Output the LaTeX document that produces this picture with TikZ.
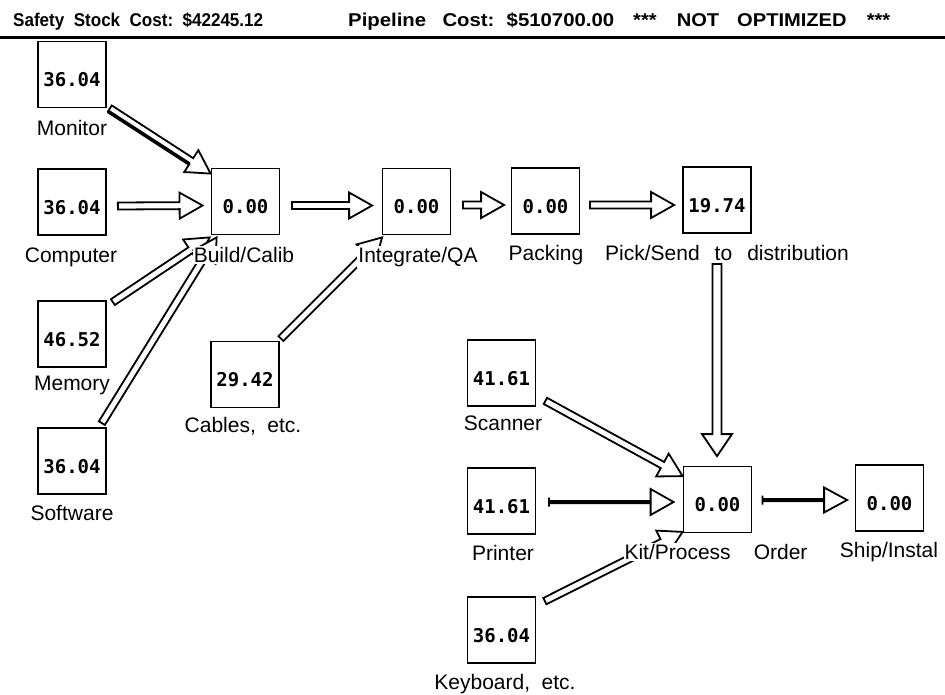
\documentclass[tikz,border=0pt]{standalone}
\usepackage{fontspec}
\setmainfont{Liberation Sans}
\newfontfamily\numfont{DejaVu Sans Mono}
\usetikzlibrary{calc}
% default geometry of a flow arrow (half shaft width, half head width, head length)
\def\flowhw{3.5}
\def\flowhh{13}
\def\flowhl{23}
\def\flowtick{3.5}
\newcommand\wgap{\hspace{0.55em}}
\newcommand\hdrtext[2]{\resizebox{#1}{\height}{#2}}
\begin{document}
\begin{tikzpicture}[x=1pt,y=-1pt,
  box/.style={draw, line width=1.8pt, fill=white, minimum width=68pt, minimum height=66pt,
    inner sep=0pt, font=\numfont\bfseries\fontsize{19}{19}\selectfont,
    text height=24pt, text depth=0pt},
  tag/.style={fill=white, inner sep=1pt, anchor=base, font=\fontsize{21}{23}\selectfont},
  hdr/.style={inner sep=0pt, anchor=base west, font=\bfseries\fontsize{18.5}{21}\selectfont},
  shaftw/.code={\def\flowhw{#1}},
  headsize/.code 2 args={\def\flowhh{#1}\def\flowhl{#2}},
  solid/.code={\def\flowhw{1.1}\def\flowtick{4.5}},
  flow/.style={draw, line width=1.8pt, fill=white, line join=miter,
    to path={
      let \p1=(\tikztostart), \p2=(\tikztotarget),
          \n1={atan2(\y2-\y1,\x2-\x1)},
          \n2={veclen(\x2-\x1,\y2-\y1)-\flowhl}
      in ($(\p1)+(\n1+90:\flowhw pt)$)
      -- ($(\p1)+(\n1:\n2)+(\n1+90:\flowhw pt)$)
      -- ($(\p1)+(\n1:\n2)+(\n1+90:\flowhh pt)$)
      -- (\p2)
      -- ($(\p1)+(\n1:\n2)+(\n1-90:\flowhh pt)$)
      -- ($(\p1)+(\n1:\n2)+(\n1-90:\flowhw pt)$)
      -- ($(\p1)+(\n1-90:\flowhw pt)$)
      -- cycle
      ($(\p1)+(\n1+90:\flowtick pt)$) -- ($(\p1)+(\n1-90:\flowtick pt)$)
    }},
]
\useasboundingbox (0,0) rectangle (945,694);

% header line
\node[hdr] (hsafety) at (13,26) {\hdrtext{250pt}{Safety\wgap Stock\wgap Cost:\wgap \$42245.12}};
\node[hdr] (hpipe)   at (348,26) {\hdrtext{266pt}{Pipeline\hspace{0.8em}Cost:\hspace{0.6em}\$510700.00}};
\node[hdr] (hopt)    at (633,26) {\hdrtext{257pt}{***\hspace{1em}NOT\hspace{0.9em}OPTIMIZED\hspace{1em}***}};
\draw[line width=3.5pt] (0,37.5) -- (945,37.5);

% stock points
\node[box] (mon)    at (72,74.5)   {36.04};
\node[box] (comp)   at (72,202)    {36.04};
\node[box] (mem)    at (72,334)    {46.52};
\node[box] (soft)   at (72,461)    {36.04};
\node[box] (build)  at (245.5,201.5) {0.00};
\node[box] (integ)  at (416.5,201.5) {0.00};
\node[box] (pack)   at (545.5,201) {0.00};
\node[box] (pick)   at (717,200)   {19.74};
\node[box] (cables) at (245,374.5) {29.42};
\node[box] (scan)   at (501.5,373) {41.61};
\node[box] (print)  at (501.5,501) {41.61};
\node[box] (keyb)   at (501.5,630) {36.04};
\node[box] (kit)    at (717.5,499.5) {0.00};
\node[box] (ship)   at (889.5,498) {0.00};

% material flows
\coordinate (montail) at ($(mon.south east)+(3,0)$);
\coordinate (montip)  at ($(build.north west)+(0,6)$);
\draw[flow] (montail) to (montip);
% the monitor flow has a heavier lower edge
\draw[line width=3.6pt] ($(montail)!3.5pt!-90:(montip)$) -- ($($(montip)!23pt!(montail)$)!3.5pt!90:(montail)$);
\draw[flow] ($(comp.east)+(11,4)$)        to ($(build.west)+(-8,4)$);
\draw[flow] ($(mem.north east)+(6,2)$)    to ($(build.south west)+(-1,2)$);
\draw[flow] ($(soft.north east)+(-5,-4)$) to ($(build.south west)+(6,2)$);
\draw[flow] ($(cables.north east)+(1,-2)$) to ($(integ.south west)+(0.5,2)$);
\draw[flow] ($(build.east)+(11.5,4)$)     to ($(integ.west)+(-9.5,4)$);
\draw[flow] ($(integ.east)+(11.5,3.5)$)   to ($(pack.west)+(-6.5,4)$);
\draw[flow] ($(pack.east)+(9.5,4)$)       to ($(pick.west)+(-8,5)$);
\draw[flow, shaftw=4.5, headsize={15}{22}] ($(pick.south)+(0,30)$) to ($(kit.north)+(-0.5,-9.5)$);
\draw[flow] ($(scan.south east)+(9,-6)$)  to ($(kit.north west)+(0,10.5)$);
\draw[flow, solid] ($(print.east)+(12.5,1)$) to ($(kit.west)+(-9,2.5)$);
\draw[flow] ($(keyb.north east)+(8.5,5)$) to ($(kit.south west)+(0,-1.5)$);
\draw[flow, solid, headsize={12.5}{23}] ($(kit.east)+(10,0.5)$) to ($(ship.west)+(-7.5,2)$);

% names of the stock points
\node[tag] (lmon)    at (72,135.5)  {Monitor};
\node[tag] (lcomp)   at (71,262.5)  {Computer};
\node[tag] (lbuild)  at (244,262.5) {Build/Calib};
\node[tag] (linteg)  at (418,262.5) {Integrate/QA};
\node[tag] (lpack)   at (546,260.5) {Packing};
\node[tag] (lpick)   at (727,260.5) {Pick/Send\wgap\,to\wgap\,distribution};
\node[tag] (lmem)    at (72,390.5)  {Memory};
\node[tag] (lsoft)   at (72,520.5)  {Software};
\node[tag] (lcables) at (243,432)   {Cables,\wgap etc.};
\node[tag] (lscan)   at (503,430.5) {Scanner};
\node[tag] (lprint)  at (503,560.5) {Printer};
\node[tag] (lkit)    at (716,559.5) {Kit/Process\wgap\wgap Order};
\node[tag] (lship)   at (889,557.5) {Ship/Instal};
\node[tag] (lkeyb)   at (505,689.5) {Keyboard,\wgap etc.};
\end{tikzpicture}
\end{document}
